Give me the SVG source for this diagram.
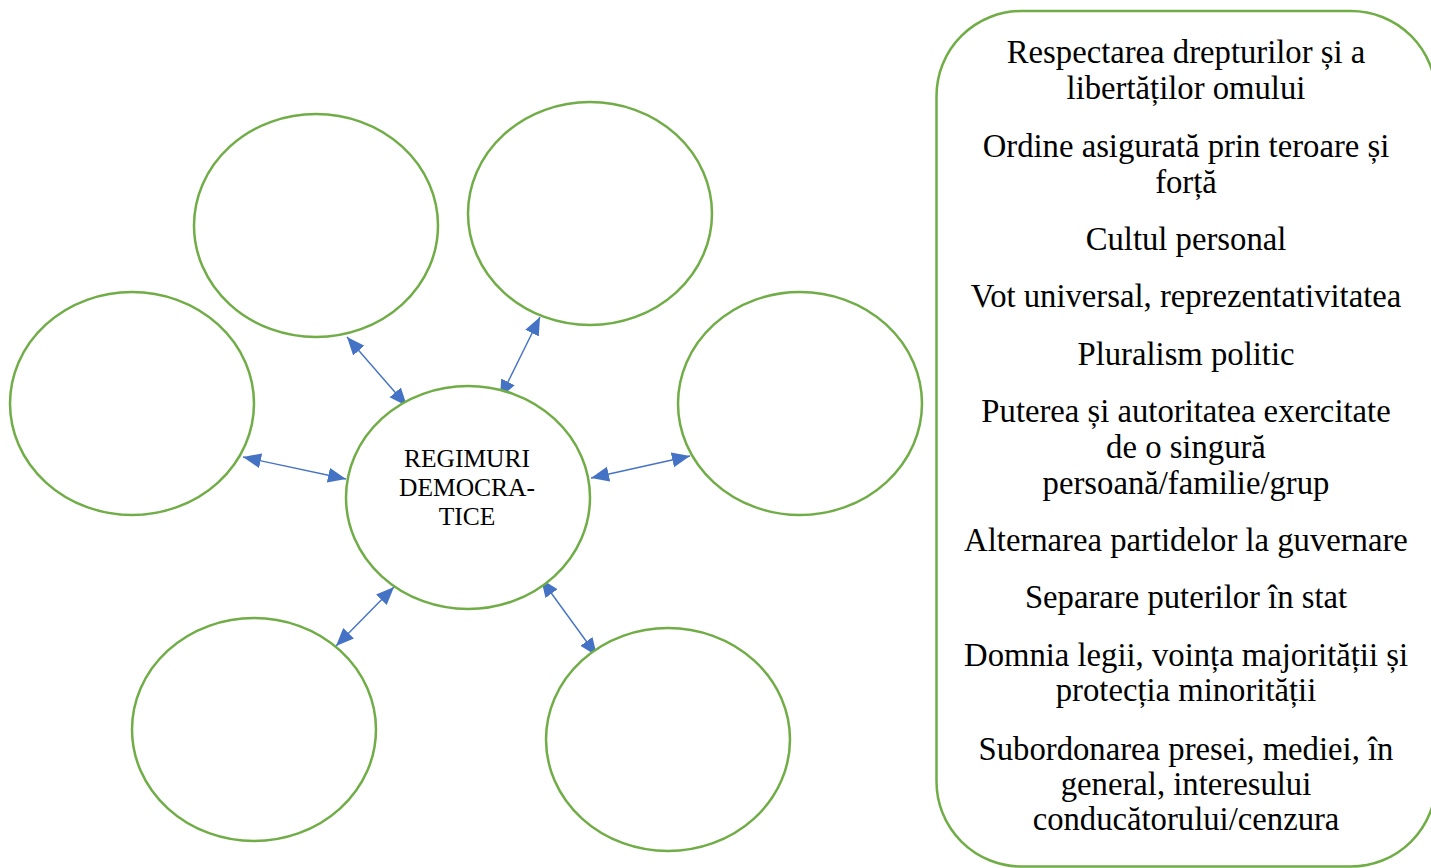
<svg xmlns="http://www.w3.org/2000/svg" width="1431" height="868" viewBox="0 0 1431 868">
<style>
.node{fill:#FFFFFF;stroke:#70AD47;stroke-width:2.5}
.conn{stroke:#4472C4;stroke-width:1.4;fill:none;marker-start:url(#ah);marker-end:url(#ah)}
.ctr{font-family:"Liberation Serif","Times New Roman",serif;font-size:25.5px;fill:#000;text-anchor:middle}
.lst{font-family:"Liberation Serif","Times New Roman",serif;font-size:32.7px;fill:#000;text-anchor:middle}
</style>
<defs>
<marker id="ah" markerUnits="userSpaceOnUse" markerWidth="20" markerHeight="16" refX="18" refY="7.5" orient="auto-start-reverse" viewBox="0 0 20 16">
<path d="M0,0 L18,7.5 L0,15 Z" fill="#4472C4"/>
</marker>
</defs>
<rect width="1431" height="868" fill="#FFFFFF"/>
<g id="connectors">
<line class="conn" x1="347" y1="337" x2="407" y2="406"/>
<line class="conn" x1="540" y1="317" x2="500" y2="398"/>
<line class="conn" x1="243" y1="457" x2="346" y2="479"/>
<line class="conn" x1="591" y1="478" x2="690" y2="456"/>
<line class="conn" x1="394" y1="587" x2="336" y2="646"/>
<line class="conn" x1="541" y1="579" x2="597" y2="656"/>
</g>
<g id="node-center">
<ellipse class="node" cx="468" cy="497.5" rx="122" ry="111.5"/>
<text class="ctr" x="467" y="467">REGIMURI</text>
<text class="ctr" x="467" y="496">DEMOCRA-</text>
<text class="ctr" x="467" y="525">TICE</text>
</g>
<g id="node-top-left"><ellipse class="node" cx="316" cy="225.5" rx="122" ry="111.5"/></g>
<g id="node-top-right"><ellipse class="node" cx="590" cy="213.5" rx="122" ry="111.5"/></g>
<g id="node-left"><ellipse class="node" cx="132" cy="403.5" rx="122" ry="111.5"/></g>
<g id="node-right"><ellipse class="node" cx="800" cy="403.5" rx="122" ry="111.5"/></g>
<g id="node-bottom-left"><ellipse class="node" cx="254" cy="729.5" rx="122" ry="111.5"/></g>
<g id="node-bottom-right"><ellipse class="node" cx="668" cy="739.5" rx="122" ry="111.5"/></g>
<g id="node-list">
<rect class="node" x="936.5" y="11" width="499.5" height="855.5" rx="85" ry="85"/>
<text class="lst" x="1186" y="63">Respectarea drepturilor și a</text>
<text class="lst" x="1186" y="99">libertăților omului</text>
<text class="lst" x="1186" y="157">Ordine asigurată prin teroare și</text>
<text class="lst" x="1186" y="193">forță</text>
<text class="lst" x="1186" y="250">Cultul personal</text>
<text class="lst" x="1186" y="307">Vot universal, reprezentativitatea</text>
<text class="lst" x="1186" y="365">Pluralism politic</text>
<text class="lst" x="1186" y="422">Puterea și autoritatea exercitate</text>
<text class="lst" x="1186" y="458">de o singură</text>
<text class="lst" x="1186" y="494">persoană/familie/grup</text>
<text class="lst" x="1186" y="551">Alternarea partidelor la guvernare</text>
<text class="lst" x="1186" y="608">Separare puterilor în stat</text>
<text class="lst" x="1186" y="666">Domnia legii, voința majorității și</text>
<text class="lst" x="1186" y="701">protecția minorității</text>
<text class="lst" x="1186" y="760">Subordonarea presei, mediei, în</text>
<text class="lst" x="1186" y="795">general, interesului</text>
<text class="lst" x="1186" y="830">conducătorului/cenzura</text>
</g>
</svg>
